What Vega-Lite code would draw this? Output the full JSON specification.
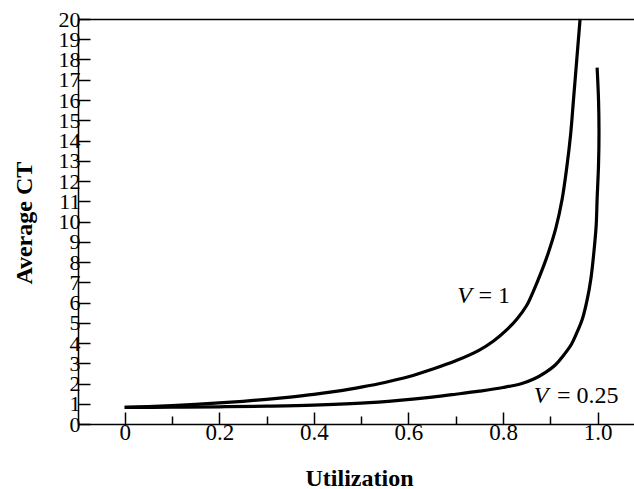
{
  "$schema": "https://vega.github.io/schema/vega-lite/v6.json",
  "autosize": {"type": "none"},
  "padding": {"left": 78, "top": 19, "right": 0, "bottom": 65},
  "width": 556,
  "height": 405,
  "config": {
    "view": {"stroke": null},
    "font": "Liberation Serif, Times New Roman, serif",
    "axis": {
      "domainColor": "black",
      "domainWidth": 1.5,
      "tickColor": "black",
      "tickWidth": 1.5,
      "labelColor": "black",
      "labelFont": "Liberation Serif, Times New Roman, serif",
      "labelFontSize": 22,
      "labelOverlap": false,
      "labelBound": false,
      "titleColor": "black",
      "titleFont": "Liberation Serif, Times New Roman, serif",
      "titleFontSize": 24,
      "titleFontWeight": "bold",
      "grid": false
    }
  },
  "datasets": {
    "curves": [
      {"s": "V1", "i": 0, "u": 0.0, "ct": 0.82},
      {"s": "V1", "i": 1, "u": 0.05, "ct": 0.86},
      {"s": "V1", "i": 2, "u": 0.1, "ct": 0.91},
      {"s": "V1", "i": 3, "u": 0.15, "ct": 0.97},
      {"s": "V1", "i": 4, "u": 0.2, "ct": 1.04},
      {"s": "V1", "i": 5, "u": 0.25, "ct": 1.12},
      {"s": "V1", "i": 6, "u": 0.3, "ct": 1.22},
      {"s": "V1", "i": 7, "u": 0.35, "ct": 1.33},
      {"s": "V1", "i": 8, "u": 0.4, "ct": 1.46},
      {"s": "V1", "i": 9, "u": 0.45, "ct": 1.62},
      {"s": "V1", "i": 10, "u": 0.5, "ct": 1.82},
      {"s": "V1", "i": 11, "u": 0.55, "ct": 2.05},
      {"s": "V1", "i": 12, "u": 0.6, "ct": 2.33},
      {"s": "V1", "i": 13, "u": 0.65, "ct": 2.7},
      {"s": "V1", "i": 14, "u": 0.7, "ct": 3.12},
      {"s": "V1", "i": 15, "u": 0.75, "ct": 3.65},
      {"s": "V1", "i": 16, "u": 0.78, "ct": 4.1},
      {"s": "V1", "i": 17, "u": 0.81, "ct": 4.7},
      {"s": "V1", "i": 18, "u": 0.83, "ct": 5.2},
      {"s": "V1", "i": 19, "u": 0.85, "ct": 5.85},
      {"s": "V1", "i": 20, "u": 0.865, "ct": 6.6},
      {"s": "V1", "i": 21, "u": 0.88, "ct": 7.45},
      {"s": "V1", "i": 22, "u": 0.895, "ct": 8.4},
      {"s": "V1", "i": 23, "u": 0.912, "ct": 9.7},
      {"s": "V1", "i": 24, "u": 0.925, "ct": 11.1},
      {"s": "V1", "i": 25, "u": 0.935, "ct": 12.7},
      {"s": "V1", "i": 26, "u": 0.943, "ct": 14.3},
      {"s": "V1", "i": 27, "u": 0.949, "ct": 16.0},
      {"s": "V1", "i": 28, "u": 0.956, "ct": 18.0},
      {"s": "V1", "i": 29, "u": 0.963, "ct": 20.0},
      {"s": "V025", "i": 0, "u": 0.0, "ct": 0.82},
      {"s": "V025", "i": 1, "u": 0.1, "ct": 0.83},
      {"s": "V025", "i": 2, "u": 0.2, "ct": 0.85},
      {"s": "V025", "i": 3, "u": 0.3, "ct": 0.88},
      {"s": "V025", "i": 4, "u": 0.4, "ct": 0.93},
      {"s": "V025", "i": 5, "u": 0.5, "ct": 1.03},
      {"s": "V025", "i": 6, "u": 0.58, "ct": 1.17},
      {"s": "V025", "i": 7, "u": 0.65, "ct": 1.33},
      {"s": "V025", "i": 8, "u": 0.7, "ct": 1.47},
      {"s": "V025", "i": 9, "u": 0.75, "ct": 1.62},
      {"s": "V025", "i": 10, "u": 0.8, "ct": 1.8},
      {"s": "V025", "i": 11, "u": 0.84, "ct": 2.0},
      {"s": "V025", "i": 12, "u": 0.865, "ct": 2.22},
      {"s": "V025", "i": 13, "u": 0.89, "ct": 2.55},
      {"s": "V025", "i": 14, "u": 0.91, "ct": 2.9},
      {"s": "V025", "i": 15, "u": 0.93, "ct": 3.45},
      {"s": "V025", "i": 16, "u": 0.945, "ct": 3.95},
      {"s": "V025", "i": 17, "u": 0.956, "ct": 4.5},
      {"s": "V025", "i": 18, "u": 0.968, "ct": 5.2},
      {"s": "V025", "i": 19, "u": 0.978, "ct": 6.14},
      {"s": "V025", "i": 20, "u": 0.986, "ct": 7.2},
      {"s": "V025", "i": 21, "u": 0.992, "ct": 8.45},
      {"s": "V025", "i": 22, "u": 0.997, "ct": 9.8},
      {"s": "V025", "i": 23, "u": 0.999, "ct": 11.1},
      {"s": "V025", "i": 24, "u": 1.002, "ct": 12.8},
      {"s": "V025", "i": 25, "u": 1.003, "ct": 14.4},
      {"s": "V025", "i": 26, "u": 1.002, "ct": 16.0},
      {"s": "V025", "i": 27, "u": 0.999, "ct": 17.6}
    ],
    "labels": [
      {"v": "V", "rest": "= 1", "u": 0.703, "u2": 0.748, "ct": 5.98},
      {"v": "V", "rest": "= 0.25", "u": 0.865, "u2": 0.914, "ct": 1.04}
    ]
  },
  "resolve": {"axis": {"x": "independent", "y": "independent"}},
  "layer": [
    {
      "data": {"name": "curves"},
      "mark": {"type": "line", "color": "black", "strokeWidth": 3.2, "interpolate": "catmull-rom"},
      "encoding": {
        "x": {
          "field": "u", "type": "quantitative",
          "scale": {"domain": [-0.0987, 1.077], "nice": false, "zero": false},
          "axis": {
            "orient": "bottom",
            "values": [0, 0.2, 0.4, 0.6, 0.8, 1.0],
            "labelExpr": "datum.value == 0 ? '0' : format(datum.value, '.1f')",
            "labelFontSize": 23,
            "tickSize": -12,
            "labelPadding": 9,
            "title": "Utilization",
            "titleX": 281,
            "titleY": 61,
            "titleBaseline": "alphabetic",
            "titleAnchor": "middle",
            "titleAlign": "center"
          }
        },
        "y": {
          "field": "ct", "type": "quantitative",
          "scale": {"domain": [0, 20], "nice": false},
          "axis": {
            "orient": "left",
            "values": [0, 1, 2, 3, 4, 5, 6, 7, 8, 9, 10, 11, 12, 13, 14, 15, 16, 17, 18, 19, 20],
            "format": "d",
            "tickSize": -12,
            "labelPadding": 10,
            "title": "Average CT",
            "titleX": -46.3,
            "titleY": 203.7,
            "titleAngle": 270,
            "titleBaseline": "alphabetic",
            "titleAlign": "center"
          }
        },
        "detail": {"field": "s"},
        "order": {"field": "i", "type": "quantitative"}
      }
    },
    {
      "data": {"name": "labels"},
      "mark": {"type": "text", "font": "Liberation Serif, Times New Roman, serif", "fontSize": 24, "fontStyle": "italic", "align": "left", "baseline": "alphabetic", "color": "black"},
      "encoding": {
        "x": {
          "field": "u", "type": "quantitative",
          "axis": {
            "orient": "bottom",
            "values": [0.1, 0.3, 0.5, 0.7, 0.9],
            "tickSize": -8,
            "labels": false,
            "domain": false,
            "title": null
          }
        },
        "y": {"field": "ct", "type": "quantitative", "axis": null},
        "text": {"field": "v"}
      }
    },
    {
      "data": {"name": "labels"},
      "mark": {"type": "text", "font": "Liberation Serif, Times New Roman, serif", "fontSize": 24, "align": "left", "baseline": "alphabetic", "color": "black"},
      "encoding": {
        "x": {
          "field": "u2", "type": "quantitative",
          "axis": {
            "orient": "top",
            "ticks": false,
            "labels": false,
            "domain": true,
            "title": null
          }
        },
        "y": {"field": "ct", "type": "quantitative", "axis": null},
        "text": {"field": "rest"}
      }
    }
  ]
}
